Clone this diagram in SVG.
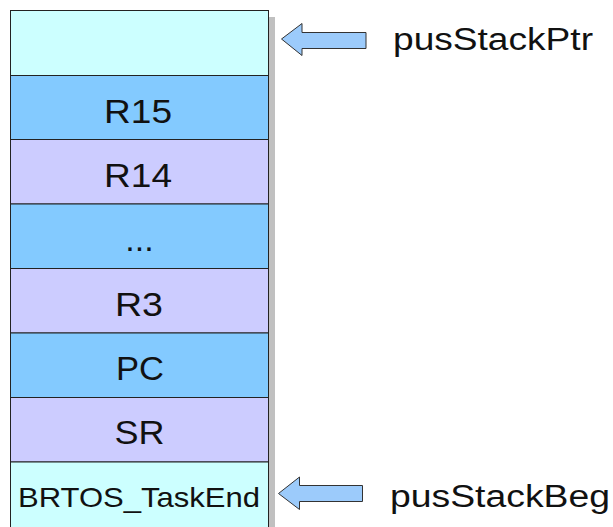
<svg xmlns="http://www.w3.org/2000/svg" width="613" height="527" viewBox="0 0 613 527">
<style>
.cell{stroke:#222;stroke-width:1}
.c1{fill:#ccffff}
.c2{fill:#83caff}
.c3{fill:#ccccff}
.lbl{font-family:"Liberation Sans",Arial,sans-serif;font-size:34px;fill:#111;text-anchor:middle}
.ptr{font-family:"Liberation Sans",Arial,sans-serif;font-size:31px;fill:#111}
.arrow{fill:#9ccbfb;stroke:#333;stroke-width:1;stroke-linejoin:miter}
</style>
<rect x="269" y="17" width="6" height="510" fill="#c0c0c0"/>
<g id="row-top"><rect class="cell c1" x="10.5" y="10.5" width="258" height="65"/></g>
<g id="row-r15"><rect class="cell c2" x="10.5" y="75.5" width="258" height="64"/><text class="lbl" x="138" y="122.5" textLength="68" lengthAdjust="spacingAndGlyphs">R15</text></g>
<g id="row-r14"><rect class="cell c3" x="10.5" y="139.5" width="258" height="64.5"/><text class="lbl" x="138" y="187" textLength="68" lengthAdjust="spacingAndGlyphs">R14</text></g>
<g id="row-dots"><rect class="cell c2" x="10.5" y="204" width="258" height="64.5"/><text class="lbl" x="139.5" y="251">...</text></g>
<g id="row-r3"><rect class="cell c3" x="10.5" y="268.5" width="258" height="64.5"/><text class="lbl" x="139" y="315.5" textLength="48" lengthAdjust="spacingAndGlyphs">R3</text></g>
<g id="row-pc"><rect class="cell c2" x="10.5" y="333" width="258" height="64.5"/><text class="lbl" x="140" y="379.5" textLength="48" lengthAdjust="spacingAndGlyphs">PC</text></g>
<g id="row-sr"><rect class="cell c3" x="10.5" y="397.5" width="258" height="64.5"/><text class="lbl" x="139.5" y="444" textLength="50" lengthAdjust="spacingAndGlyphs">SR</text></g>
<g id="row-end"><rect class="cell c1" x="10.5" y="462" width="258" height="70"/><text class="lbl" x="139" y="506.5" style="font-size:28px" textLength="242" lengthAdjust="spacingAndGlyphs">BRTOS_TaskEnd</text></g>
<g id="connectors">
<polygon class="arrow" points="281.5,39 302,23.5 302,32.5 366,32.5 366,48.5 302,48.5 302,55.5"/>
<polygon class="arrow" points="278.5,493.5 299.5,477 299.5,485.5 362.5,485.5 362.5,501.5 299.5,501.5 299.5,509.5"/>
</g>
<g id="label-ptr"><text class="ptr" x="393" y="50" textLength="200" lengthAdjust="spacingAndGlyphs">pusStackPtr</text></g>
<g id="label-beg"><text class="ptr" x="390" y="507" textLength="220" lengthAdjust="spacingAndGlyphs">pusStackBeg</text></g>
</svg>
